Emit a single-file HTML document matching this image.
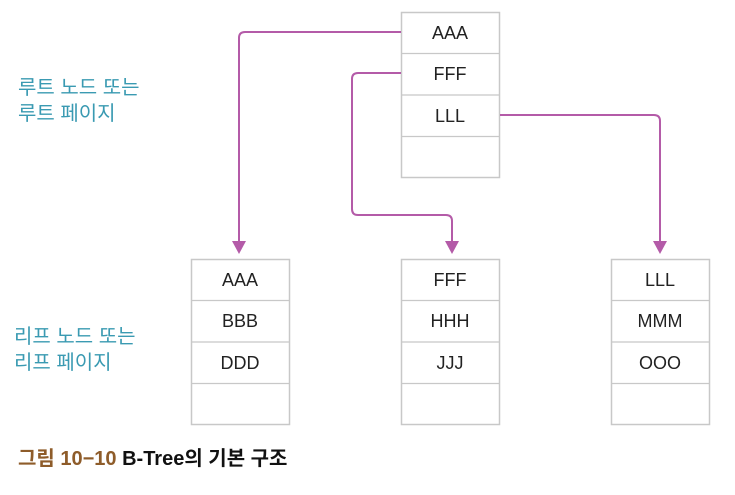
<!DOCTYPE html>
<html><head><meta charset="utf-8"><style>
body{margin:0;width:735px;height:495px;background:#fff;overflow:hidden;font-family:"Liberation Sans","Noto Sans CJK KR",sans-serif;}
</style></head><body>
<svg width="735" height="495" xmlns="http://www.w3.org/2000/svg" style="position:absolute;left:0;top:0">
<g fill="#fff" stroke="#c8c8c8" stroke-width="1.5">
<rect x="401.5" y="12.5" width="98" height="165"/>
<rect x="191.5" y="259.5" width="98" height="165"/>
<rect x="401.5" y="259.5" width="98" height="165"/>
<rect x="611.5" y="259.5" width="98" height="165"/>
</g>
<g stroke="#c8c8c8" stroke-width="1.2">
<line x1="401" y1="53.5" x2="500" y2="53.5"/><line x1="401" y1="95" x2="500" y2="95"/><line x1="401" y1="136.5" x2="500" y2="136.5"/>
<line x1="191" y1="300.5" x2="290" y2="300.5"/><line x1="191" y1="342" x2="290" y2="342"/><line x1="191" y1="383.5" x2="290" y2="383.5"/>
<line x1="401" y1="300.5" x2="500" y2="300.5"/><line x1="401" y1="342" x2="500" y2="342"/><line x1="401" y1="383.5" x2="500" y2="383.5"/>
<line x1="611" y1="300.5" x2="710" y2="300.5"/><line x1="611" y1="342" x2="710" y2="342"/><line x1="611" y1="383.5" x2="710" y2="383.5"/>
</g>
<g fill="none" stroke="#b45ba8" stroke-width="2">
<path d="M401 32 H245 Q239 32 239 38 V242"/>
<path d="M401 73 H358 Q352 73 352 79 V209 Q352 215 358 215 H446 Q452 215 452 221 V242"/>
<path d="M500 115 H654 Q660 115 660 121 V242"/>
</g>
<g fill="#b45ba8">
<polygon points="232,241 246,241 239,254"/>
<polygon points="445,241 459,241 452,254"/>
<polygon points="653,241 667,241 660,254"/>
</g>
<g font-size="18" fill="#222" text-anchor="middle" font-family="Liberation Sans, sans-serif">
<text x="450" y="39">AAA</text><text x="450" y="80">FFF</text><text x="450" y="122">LLL</text>
<text x="240" y="286">AAA</text><text x="240" y="327">BBB</text><text x="240" y="369">DDD</text>
<text x="450" y="286">FFF</text><text x="450" y="327">HHH</text><text x="450" y="369">JJJ</text>
<text x="660" y="286">LLL</text><text x="660" y="327">MMM</text><text x="660" y="369">OOO</text>
</g>
<g font-size="20" fill="#3a9ab2" font-family="Liberation Sans, Noto Sans CJK KR, sans-serif">
<text x="18" y="94">루트 노드 또는</text><text x="18" y="120">루트 페이지</text>
<text x="14" y="343">리프 노드 또는</text><text x="14" y="369">리프 페이지</text>
</g>
<text x="18" y="465" font-size="20" font-weight="bold" font-family="Liberation Sans, Noto Sans CJK KR, sans-serif"><tspan fill="#8e5c2a">그림 10−10</tspan><tspan fill="#111"> B-Tree의 기본 구조</tspan></text>
</svg>
</body></html>
